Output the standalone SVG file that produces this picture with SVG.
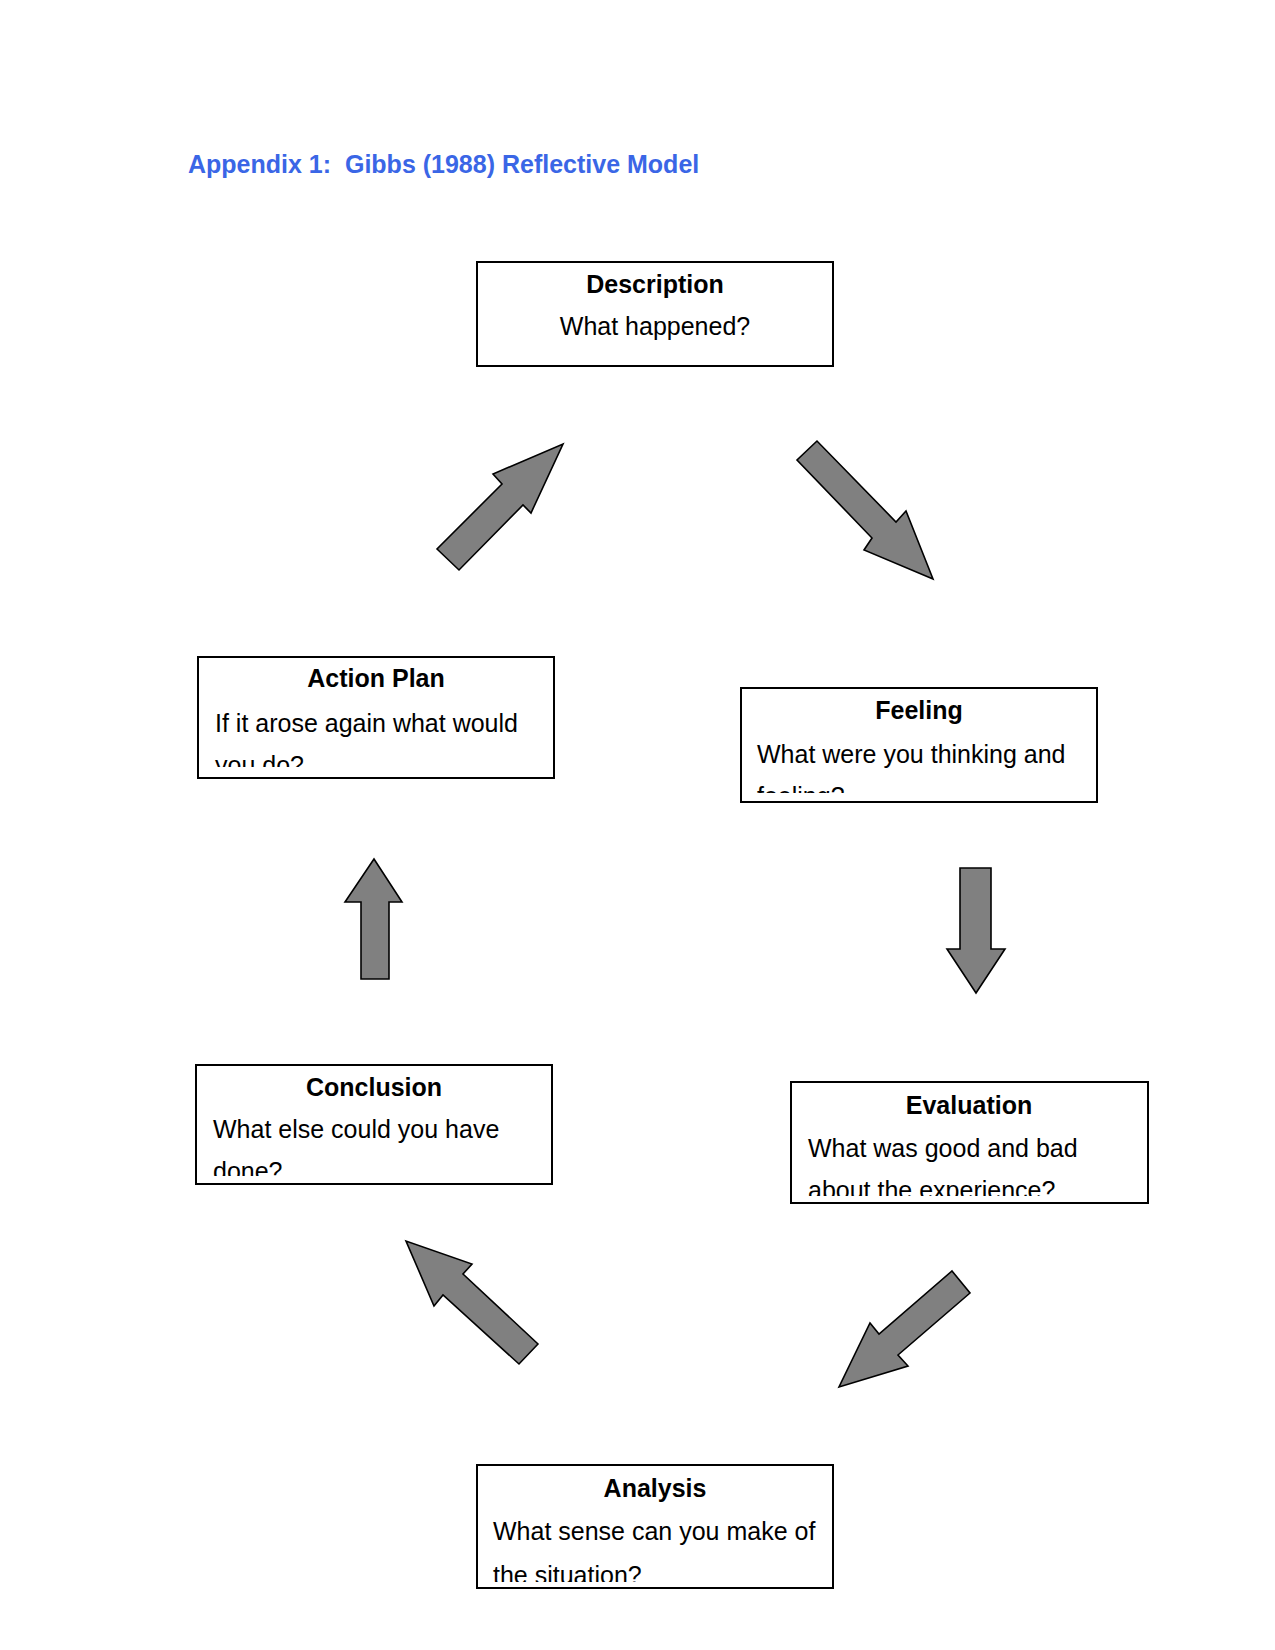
<svg xmlns="http://www.w3.org/2000/svg" width="1275" height="1650" viewBox="0 0 1275 1650">
<style>
.box{fill:#fff;stroke:#000;stroke-width:2}
.ttl{font-family:"Liberation Sans",Arial,sans-serif;font-weight:bold;font-size:25px;fill:#000;text-anchor:middle}
.txt{font-family:"Liberation Sans",Arial,sans-serif;font-size:25px;fill:#000}
.arr{fill:#808080;stroke:#000;stroke-width:1.6;stroke-linejoin:miter}
.head{font-family:"Liberation Sans",Arial,sans-serif;font-weight:bold;font-size:25px;fill:#3A66E6}
</style>
<defs>
<clipPath id="cAction"><rect x="198" y="657" width="356" height="110"/></clipPath>
<clipPath id="cFeeling"><rect x="741" y="688" width="356" height="105"/></clipPath>
<clipPath id="cConclusion"><rect x="196" y="1065" width="356" height="111"/></clipPath>
<clipPath id="cEvaluation"><rect x="791" y="1082" width="357" height="114"/></clipPath>
<clipPath id="cAnalysis"><rect x="477" y="1465" width="356" height="117"/></clipPath>
</defs>
<rect width="1275" height="1650" fill="#fff"/>
<text class="head" x="188" y="173" xml:space="preserve">Appendix 1:  Gibbs (1988) Reflective Model</text>

<g id="description">
<rect class="box" x="477" y="262" width="356" height="104"/>
<text class="ttl" x="655" y="293">Description</text>
<text class="txt" x="655" y="335" text-anchor="middle">What happened?</text>
</g>

<g id="feeling">
<rect class="box" x="741" y="688" width="356" height="114"/>
<text class="ttl" x="919" y="719">Feeling</text>
<g clip-path="url(#cFeeling)">
<text class="txt" x="757" y="763">What were you thinking and</text>
<text class="txt" x="757" y="805">feeling?</text>
</g>
</g>

<g id="evaluation">
<rect class="box" x="791" y="1082" width="357" height="121"/>
<text class="ttl" x="969" y="1114">Evaluation</text>
<g clip-path="url(#cEvaluation)">
<text class="txt" x="808" y="1157">What was good and bad</text>
<text class="txt" x="808" y="1199">about the experience?</text>
</g>
</g>

<g id="analysis">
<rect class="box" x="477" y="1465" width="356" height="123"/>
<text class="ttl" x="655" y="1497">Analysis</text>
<g clip-path="url(#cAnalysis)">
<text class="txt" x="493" y="1540">What sense can you make of</text>
<text class="txt" x="493" y="1584">the situation?</text>
</g>
</g>

<g id="conclusion">
<rect class="box" x="196" y="1065" width="356" height="119"/>
<text class="ttl" x="374" y="1096">Conclusion</text>
<g clip-path="url(#cConclusion)">
<text class="txt" x="213" y="1138">What else could you have</text>
<text class="txt" x="213" y="1180">done?</text>
</g>
</g>

<g id="action-plan">
<rect class="box" x="198" y="657" width="356" height="121"/>
<text class="ttl" x="376" y="687">Action Plan</text>
<g clip-path="url(#cAction)">
<text class="txt" x="215" y="732">If it arose again what would</text>
<text class="txt" x="215" y="774">you do?</text>
</g>
</g>

<g id="connectors">
<polygon class="arr" points="817,441 797,460 872,538 864,550 933,579 906,511 896,522"/>
<polygon class="arr" points="960,868 991,868 991,949 1005,949 976,993 947,949 960,949"/>
<polygon class="arr" points="952,1271 970,1293 898,1355 908,1366 839,1387 870,1323 879,1334"/>
<polygon class="arr" points="538,1344 519,1364 443,1295 434,1306 406,1241 472,1264 463,1274"/>
<polygon class="arr" points="374,859 402,902 389,902 389,979 361,979 361,902 345,902"/>
<polygon class="arr" points="437,549 459,570 523,505 531,513 563,444 493,474 502,484"/>
</g>
</svg>
